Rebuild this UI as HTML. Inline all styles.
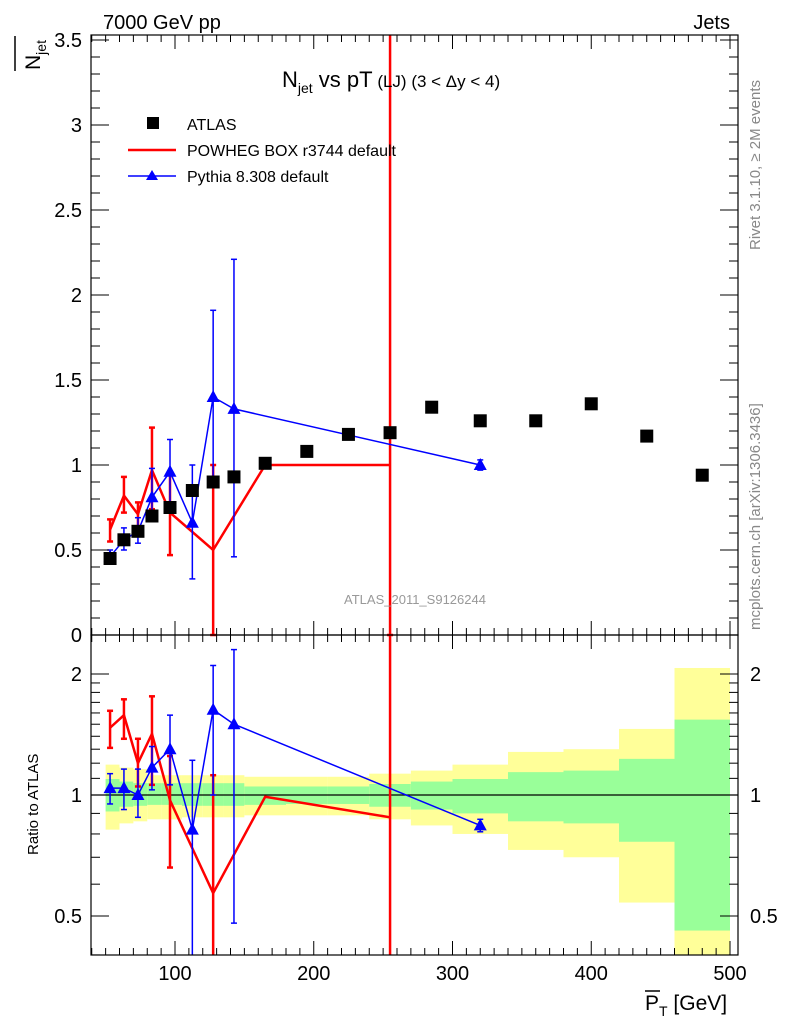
<!DOCTYPE html>
<html><head><meta charset="utf-8"><style>
body{margin:0;background:#fff;}
svg{display:block;font-family:"Liberation Sans",sans-serif;}
</style></head><body>
<svg id="chart" width="786" height="1024" viewBox="0 0 786 1024" xmlns="http://www.w3.org/2000/svg">
<g id="bands"></g>
<g id="marks"></g>
<g id="axes"></g>
<text x="103" y="29" font-size="20">7000 GeV pp</text>
<text x="730" y="29" font-size="20" text-anchor="end">Jets</text>
<text x="282" y="87" font-size="22">N<tspan font-size="14" dy="6">jet</tspan><tspan dy="-6"> vs pT</tspan><tspan font-size="17"> (LJ) (3 &lt; Δy &lt; 4)</tspan></text>
<text x="415" y="604" font-size="13" fill="#999" text-anchor="middle">ATLAS_2011_S9126244</text>
<text transform="translate(760,250) rotate(-90)" font-size="15" fill="#888">Rivet 3.1.10, ≥ 2M events</text>
<text transform="translate(760,630) rotate(-90)" font-size="15" fill="#888">mcplots.cern.ch [arXiv:1306.3436]</text>
<g>
<text transform="translate(40,70) rotate(-90)" font-size="21">N<tspan font-size="14" dy="6">jet</tspan></text>
<line x1="15" y1="71" x2="15" y2="36" stroke="#000" stroke-width="1.5"/>
</g>
<text transform="translate(38,855) rotate(-90)" font-size="15">Ratio to ATLAS</text>
<g>
<text x="645" y="1010" font-size="21">P<tspan font-size="14" dy="6">T</tspan><tspan dy="-6"> [GeV]</tspan></text>
<line x1="645" y1="991" x2="660" y2="991" stroke="#000" stroke-width="1.5"/>
</g>
<g>
<rect x="147" y="117" width="12" height="12" fill="#000"/>
<text x="187" y="130" font-size="16">ATLAS</text>
<line x1="128" y1="150" x2="176" y2="150" stroke="#f00" stroke-width="2.5"/>
<text x="187" y="156" font-size="16">POWHEG BOX r3744 default</text>
<line x1="128" y1="176" x2="176" y2="176" stroke="#00f" stroke-width="1.5"/>
<polygon points="152,170 158,180 146,180" fill="#00f"/>
<text x="187" y="182" font-size="16">Pythia 8.308 default</text>
</g>
</svg>
<script>
const edges=[50,60,70,80,90,105,120,135,150,180,210,240,270,300,340,380,420,460,500];
const atlasX=[53.2,63.2,73.3,83.4,96.4,112.5,127.5,142.5,165,195,225,255,285,320,360,400,440,480];
const atlasY=[0.45,0.56,0.61,0.70,0.75,0.85,0.90,0.93,1.01,1.08,1.18,1.19,1.34,1.26,1.26,1.36,1.17,0.94];
const bandYelUp=[1.19,1.17,1.16,1.12,1.12,1.12,1.12,1.12,1.11,1.11,1.11,1.13,1.15,1.19,1.28,1.30,1.46,2.07];
const bandYelDn=[0.82,0.85,0.86,0.87,0.87,0.88,0.88,0.88,0.89,0.89,0.89,0.87,0.84,0.80,0.73,0.70,0.54,0.30];
const bandGrnUp=[1.096,1.08,1.07,1.07,1.07,1.07,1.07,1.07,1.05,1.05,1.05,1.065,1.08,1.096,1.14,1.15,1.23,1.54];
const bandGrnDn=[0.91,0.935,0.94,0.945,0.945,0.94,0.94,0.94,0.945,0.95,0.95,0.935,0.92,0.90,0.86,0.85,0.765,0.46];
const powX=[53.2,63.2,73.3,83.4,96.4,127.5,165,255];
const powY=[0.62,0.82,0.71,0.97,0.72,0.5,1.0,1.0];
const powLo=[0.55,0.72,0.62,0.74,0.47,0.0,1.0,0.0];
const powHi=[0.68,0.93,0.78,1.22,0.95,1.0,1.0,4.0];
const powR=[1.47,1.58,1.2,1.42,0.97,0.57,0.99,0.88];
const powRLo=[1.31,1.38,1.05,1.06,0.66,0.0,0.99,0.0];
const powRHi=[1.62,1.73,1.38,1.76,1.25,1.12,0.99,9];
const pyX=[53.2,63.2,73.3,83.4,96.4,112.5,127.5,142.5,320];
const pyY=[0.46,0.56,0.61,0.81,0.96,0.66,1.40,1.33,1.0];
const pyLo=[0.42,0.50,0.54,0.68,0.74,0.33,0.90,0.46,0.97];
const pyHi=[0.50,0.63,0.69,0.98,1.15,1.0,1.91,2.21,1.03];
const pyR=[1.04,1.04,1.0,1.17,1.3,0.82,1.63,1.5,0.84];
const pyRLo=[0.95,0.92,0.88,1.03,1.06,0.3,1.0,0.48,0.81];
const pyRHi=[1.13,1.16,1.16,1.32,1.58,1.22,2.1,2.3,0.87];
const xTicks=[100,200,300,400,500];
const yTicks=[0,0.5,1,1.5,2,2.5,3,3.5];
const rTicks=[0.5,1,2];

const NS="http://www.w3.org/2000/svg";
const L=91,R=738,T=35,MB=635,RB=955;
const X=v=>36.25+v*1.3875;
const Y=v=>635-v*170;
const RY=v=>795-Math.log2(v)*121;
const clampM=y=>Math.max(T,Math.min(MB,y));
const clampR=y=>Math.max(MB,Math.min(RB,y));
function el(tag,attrs,parent){const e=document.createElementNS(NS,tag);for(const k in attrs)e.setAttribute(k,attrs[k]);parent.appendChild(e);return e;}
const bands=document.getElementById('bands'),marks=document.getElementById('marks'),axes=document.getElementById('axes');

for(let i=0;i<bandYelUp.length;i++){
  const x0=X(edges[i]),x1=X(edges[i+1]);
  let y0=clampR(RY(bandYelUp[i])),y1=clampR(RY(bandYelDn[i]));
  const r=el('rect',{x:x0,y:y0,width:x1-x0,height:y1-y0,fill:'#ffff99'},bands);
  
  
  y0=clampR(RY(bandGrnUp[i]));y1=clampR(RY(bandGrnDn[i]));
  const g=el('rect',{x:x0,y:y0,width:x1-x0,height:y1-y0,fill:'#99ff99'},bands);
  
  
}
const one=el('line',{x1:L,x2:R,y1:RY(1),y2:RY(1),stroke:'#000','stroke-width':1.2},bands);



function series(xs,ys,lo,hi,Yf,cl,color,w,name){
  const pts=xs.map((x,i)=>X(x)+','+cl(Yf(ys[i]))).join(' ');
  const pl=el('polyline',{points:pts,fill:'none',stroke:color,'stroke-width':w},marks);
  
  
  xs.forEach((x,i)=>{
    const a=cl(Yf(Math.max(lo[i],1e-6))),b=cl(Yf(hi[i]));
    if(Math.abs(a-b)<0.5)return;
    const e=el('line',{x1:X(x),x2:X(x),y1:a,y2:b,stroke:color,'stroke-width':w},marks);
    
    
    [a,b].forEach(yy=>{if(yy>T+1&&yy<RB-1&&yy!==MB){const c=el('line',{x1:X(x)-3,x2:X(x)+3,y1:yy,y2:yy,stroke:color,'stroke-width':w},marks);}});
  });
}
series(powX,powY,powLo,powHi,Y,clampM,'#f00',2.5,'powheg');
series(pyX,pyY,pyLo,pyHi,Y,clampM,'#00f',1.5,'pythia');
series(powX,powR,powRLo,powRHi,RY,clampR,'#f00',2.5,'powheg-ratio');
series(pyX,pyR,pyRLo,pyRHi,RY,clampR,'#00f',1.5,'pythia-ratio');
function tri(x,y,name){const p=el('polygon',{points:`${x},${y-7} ${x+6.5},${y+5} ${x-6.5},${y+5}`,fill:'#00f'},marks);}
pyX.forEach((x,i)=>{tri(X(x),Y(pyY[i]),'pythia-point');tri(X(x),RY(pyR[i]),'pythia-ratio-point');});
atlasX.forEach((x,i)=>{const r=el('rect',{x:X(x)-6.5,y:Y(atlasY[i])-6.5,width:13,height:13,fill:'#000'},marks);});

[[T,MB],[MB,RB]].forEach(([t,b])=>{const f=el('rect',{x:L,y:t,width:R-L,height:b-t,fill:'none',stroke:'#000','stroke-width':1.2},axes);});
for(let v=40;v<=505;v+=10){
  const x=X(v);if(x<L||x>R)continue;
  const major=v%100===0,len=major?14:7;
  [[T,1],[MB,-1],[MB,1],[RB,-1]].forEach(([y,d])=>el('line',{x1:x,x2:x,y1:y,y2:y+d*len,stroke:'#000','stroke-width':1},axes));
}
xTicks.forEach(v=>{const t=el('text',{x:X(v),y:980,'font-size':20,'text-anchor':'middle'},axes);t.textContent=v;});
for(let k=1;k<=35;k++){const v=k/10,y=Y(v);if(y<T)continue;const major=k%5===0,len=major?18:9;
  el('line',{x1:L,x2:L+len,y1:y,y2:y,stroke:'#000','stroke-width':1},axes);el('line',{x1:R,x2:R-len,y1:y,y2:y,stroke:'#000','stroke-width':1},axes);}
yTicks.forEach(v=>{const t=el('text',{x:82,y:Y(v)+7,'font-size':20,'text-anchor':'end'},axes);t.textContent=v;});
[0.4,0.5,0.6,0.7,0.8,0.9,1,1.1,1.2,1.3,1.4,1.5,1.6,1.7,1.8,1.9,2].forEach(v=>{const y=RY(v),major=rTicks.includes(v),len=major?18:9;
  el('line',{x1:L,x2:L+len,y1:y,y2:y,stroke:'#000','stroke-width':1},axes);el('line',{x1:R,x2:R-len,y1:y,y2:y,stroke:'#000','stroke-width':1},axes);});
rTicks.forEach(v=>{const t=el('text',{x:82,y:RY(v)+7,'font-size':20,'text-anchor':'end'},axes);t.textContent=v;
  const t2=el('text',{x:750,y:RY(v)+7,'font-size':20},axes);t2.textContent=v;});
</script>
</body></html>
